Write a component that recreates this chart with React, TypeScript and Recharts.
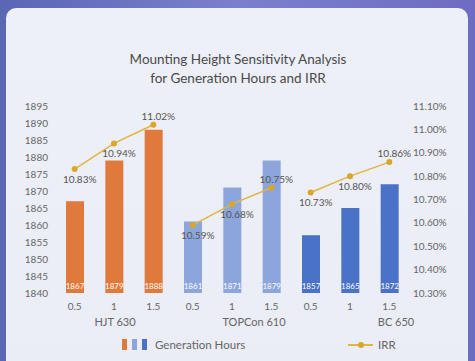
import { ComposedChart, Bar, Line, XAxis, YAxis, Cell, LabelList } from 'recharts'

const heights = ['0.5', '1', '1.5', '0.5', '1', '1.5', '0.5', '1', '1.5']
const groups = ['HJT 630', 'TOPCon 610', 'BC 650']
const hours = [1867, 1879, 1888, 1861, 1871, 1879, 1857, 1865, 1872]
const irr = [10.83, 10.94, 11.02, 10.59, 10.68, 10.75, 10.73, 10.8, 10.86]
const hourTicks = [1840, 1845, 1850, 1855, 1860, 1865, 1870, 1875, 1880, 1885, 1890, 1895]
const irrTicks = [10.3, 10.4, 10.5, 10.6, 10.7, 10.8, 10.9, 11.0, 11.1]
const barColors = ['#E07A3C', '#8CA6DC', '#4A72C6']

const FONT = 'Lato, sans-serif'

// one row per bar, irr split per group so the lines break between groups
const data = heights.map((h, i) => {
    const g = Math.floor(i / 3)
    return {
        height: h,
        group: groups[g],
        hours: hours[i],
        irr0: g === 0 ? irr[i] : null,
        irr1: g === 1 ? irr[i] : null,
        irr2: g === 2 ? irr[i] : null,
    }
})

// group label sits under one category of each group, nudged like the original
const groupTickAt: Record<number, [number, number]> = { 1: [0, 1], 4: [1, 22], 7: [2, 46] }

function GroupTick(props: any) {
    const { x, y, payload } = props
    const spec = groupTickAt[payload.index]
    if (!spec) return null
    return (
        <text x={x + spec[1]} y={y + 5} textAnchor="middle" fontSize={11} fill="#666" fontFamily={FONT}>
            {groups[spec[0]]}
        </text>
    )
}

function IrrLabel(props: any) {
    const { x, y, value, index } = props
    if (value == null) return null
    const above = index % 3 === 2
    return (
        <text
            x={x + 5}
            y={above ? y - 5 : y + 14}
            textAnchor="middle"
            fontSize={10}
            fill="#555"
            fontFamily={FONT}
        >
            {value.toFixed(2)}%
        </text>
    )
}

const tickStyle = { fontSize: 10, fill: '#666', fontFamily: FONT }

export default function App() {
    return (
        <div
            style={{
                position: 'fixed',
                left: 0,
                top: 0,
                width: 475,
                height: 361,
                overflow: 'hidden',
                background: 'linear-gradient(90deg, #5a67b3 0%, #7b80cc 50%, #6e6cc2 100%)',
                fontFamily: FONT,
            }}
        >
            <div
                style={{
                    position: 'absolute',
                    left: 6,
                    top: 8,
                    width: 462,
                    height: 400,
                    borderRadius: 10,
                    background: 'linear-gradient(180deg, #eef0f9 0%, #eaecf6 100%)',
                }}
            />
            <div
                style={{
                    position: 'absolute',
                    left: 0,
                    top: 50,
                    width: 476,
                    textAlign: 'center',
                    fontSize: 13.5,
                    lineHeight: '19px',
                    color: '#4a4a4a',
                }}
            >
                Mounting Height Sensitivity Analysis
                <br />
                for Generation Hours and IRR
            </div>
            <div style={{ position: 'absolute', left: 0, top: 0 }}>
                <ComposedChart
                    width={475}
                    height={361}
                    data={data}
                    margin={{ top: 106, right: 0, bottom: 23, left: 0 }}
                    barCategoryGap={0}
                >
                    <XAxis
                        xAxisId="a"
                        dataKey="height"
                        axisLine={false}
                        tickLine={false}
                        tickSize={4}
                        tickMargin={6}
                        interval={0}
                        height={20}
                        tick={tickStyle}
                    />
                    <XAxis
                        xAxisId="b"
                        dataKey="group"
                        axisLine={false}
                        tickLine={false}
                        interval={0}
                        height={25}
                        tick={<GroupTick />}
                    />
                    <YAxis
                        yAxisId="left"
                        domain={[1840, 1895]}
                        ticks={hourTicks}
                        axisLine={false}
                        tickLine={false}
                        tickSize={5}
                        tickMargin={2}
                        width={55}
                        tick={tickStyle}
                        allowDataOverflow
                    />
                    <YAxis
                        yAxisId="right"
                        orientation="right"
                        domain={[10.3, 11.1]}
                        ticks={irrTicks}
                        tickFormatter={(v: number) => v.toFixed(2) + '%'}
                        axisLine={false}
                        tickLine={false}
                        tickSize={2}
                        tickMargin={2}
                        width={66}
                        tick={tickStyle}
                        allowDataOverflow
                    />
                    <Bar xAxisId="a" yAxisId="left" dataKey="hours" barSize={18} isAnimationActive={false}>
                        {data.map((_, i) => (
                            <Cell key={i} fill={barColors[Math.floor(i / 3)]} />
                        ))}
                        <LabelList
                            dataKey="hours"
                            position="insideBottom"
                            offset={4}
                            fill="#fff"
                            fontSize={8}
                            fontFamily={FONT}
                        />
                    </Bar>
                    {['irr0', 'irr1', 'irr2'].map((k) => (
                        <Line
                            key={k}
                            xAxisId="a"
                            yAxisId="right"
                            dataKey={k}
                            stroke="#E2B443"
                            strokeWidth={1.5}
                            dot={{ r: 3, fill: '#D9A628', stroke: 'none' }}
                            activeDot={false}
                            isAnimationActive={false}
                        >
                            <LabelList dataKey={k} content={<IrrLabel />} />
                        </Line>
                    ))}
                </ComposedChart>
            </div>
            <div style={{ position: 'absolute', left: 122, top: 339, width: 5, height: 11, background: barColors[0] }} />
            <div style={{ position: 'absolute', left: 132, top: 339, width: 5, height: 11, background: barColors[1] }} />
            <div style={{ position: 'absolute', left: 142, top: 339, width: 5, height: 11, background: barColors[2] }} />
            <div style={{ position: 'absolute', left: 155, top: 337, fontSize: 11.5, lineHeight: '16px', color: '#666' }}>
                Generation Hours
            </div>
            <div style={{ position: 'absolute', left: 348, top: 344, width: 25, height: 1.5, background: '#E2B443' }} />
            <div
                style={{
                    position: 'absolute',
                    left: 358,
                    top: 342,
                    width: 6,
                    height: 6,
                    borderRadius: 3,
                    background: '#D9A628',
                }}
            />
            <div style={{ position: 'absolute', left: 378, top: 337, fontSize: 11.5, lineHeight: '16px', color: '#666' }}>
                IRR
            </div>
        </div>
    )
}
